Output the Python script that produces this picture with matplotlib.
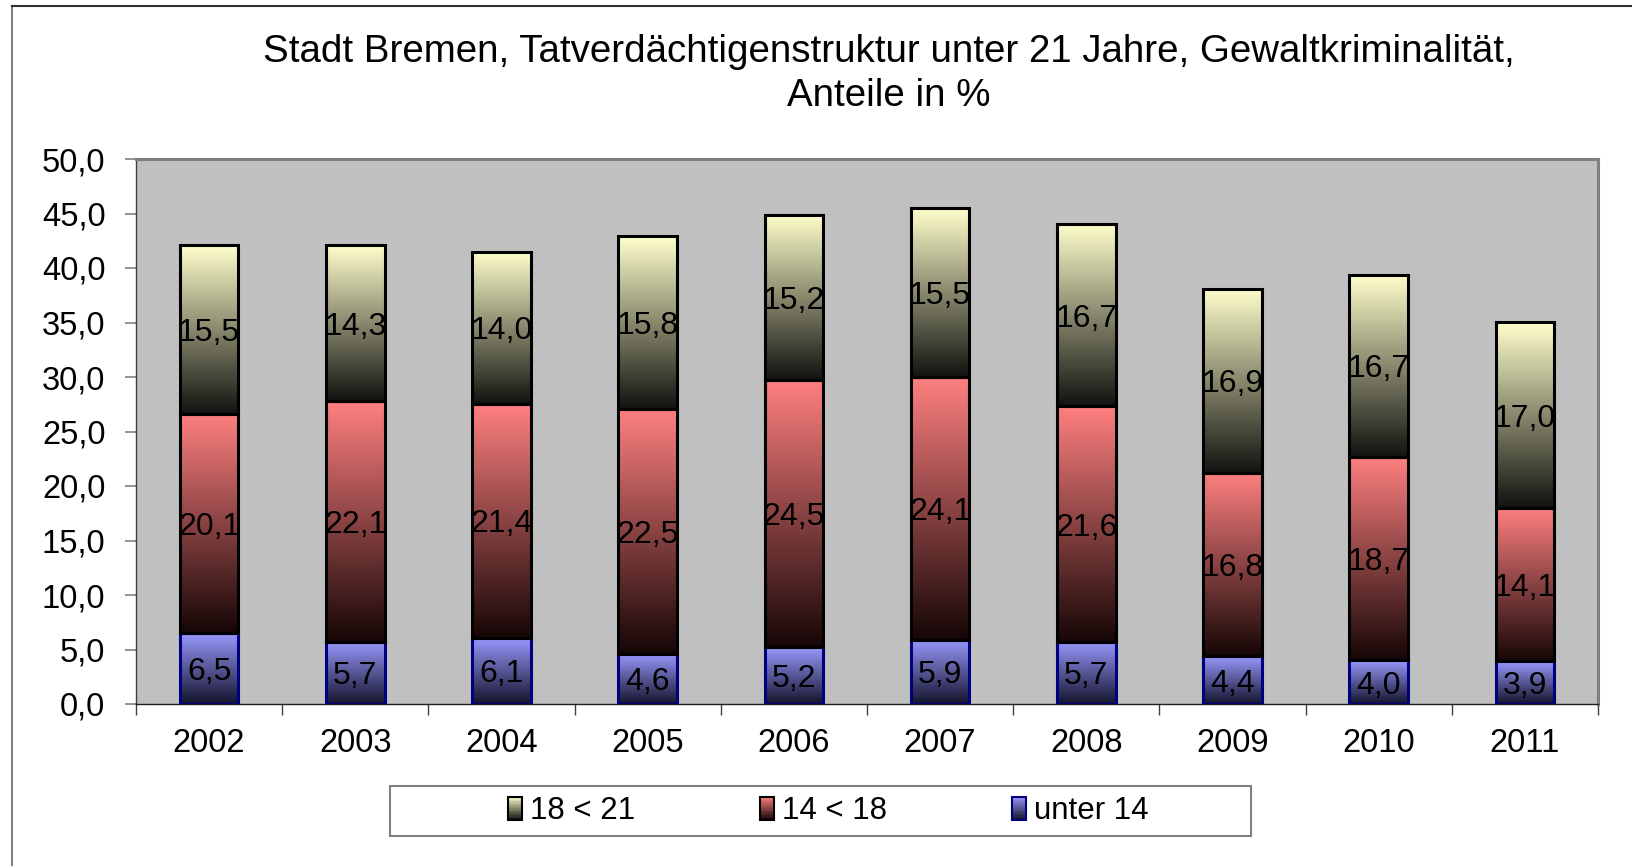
import numpy as np
import matplotlib
matplotlib.use("Agg")
import matplotlib.pyplot as plt
from matplotlib.colors import LinearSegmentedColormap, to_rgb
from matplotlib.patches import Rectangle
from matplotlib.lines import Line2D
from matplotlib.legend_handler import HandlerBase
from matplotlib.ticker import FuncFormatter, MultipleLocator

plt.rcParams['font.family'] = ['Liberation Sans', 'DejaVu Sans']

years = ['2002', '2003', '2004', '2005', '2006', '2007', '2008', '2009', '2010', '2011']
unter_14 = [6.5, 5.7, 6.1, 4.6, 5.2, 5.9, 5.7, 4.4, 4.0, 3.9]
j14_18 = [20.1, 22.1, 21.4, 22.5, 24.5, 24.1, 21.6, 16.8, 18.7, 14.1]
j18_21 = [15.5, 14.3, 14.0, 15.8, 15.2, 15.5, 16.7, 16.9, 16.7, 17.0]

title = "Stadt Bremen, Tatverdächtigenstruktur unter 21 Jahre, Gewaltkriminalität,\nAnteile in %"

# (label, values, top colour, bottom colour, edge colour)
series = [
    ("unter 14", unter_14, "#9999FF", "#14142c", "#000080"),
    ("14 < 18", j14_18, "#FF8080", "#160606", "#000000"),
    ("18 < 21", j18_21, "#FFFFCC", "#121210", "#000000"),
]


def komma(v, pos=None):
    return f"{v:.1f}".replace(".", ",")


def grad_cmap(top, bottom):
    return LinearSegmentedColormap.from_list("g", [bottom, top])


class GradientHandler(HandlerBase):
    def __init__(self, top, bottom, edge):
        super().__init__()
        self.top, self.bottom, self.edge = to_rgb(top), to_rgb(bottom), edge

    def create_artists(self, legend, orig_handle, xdescent, ydescent,
                       width, height, fontsize, trans):
        n = 16
        arts = []
        for i in range(n):
            t = (i + 0.5) / n
            c = tuple(b + (a - b) * t for a, b in zip(self.top, self.bottom))
            arts.append(Rectangle((-xdescent, -ydescent + height * i / n), width,
                                  height / n + 0.3, facecolor=c, edgecolor="none",
                                  transform=trans))
        arts.append(Rectangle((-xdescent, -ydescent), width, height, facecolor="none",
                              edgecolor=self.edge, lw=1.5, transform=trans))
        return arts


fig = plt.figure(figsize=(16.32, 8.66), dpi=100)
ax = fig.add_axes([136 / 1632, 1 - 704 / 866, 1462 / 1632, 545 / 866])
ax.set_facecolor("#C0C0C0")

x = np.arange(len(years))
bottom = np.zeros(len(years))
width = 0.40
handles = []
for label, vals, top_c, bot_c, edge_c in series:
    vals = np.array(vals)
    bars = ax.bar(x, vals, width, bottom=bottom, facecolor="none",
                  edgecolor=edge_c, linewidth=2.2, zorder=3, label=label)
    cmap = grad_cmap(top_c, bot_c)
    grad = np.linspace(0, 1, 256).reshape(-1, 1)
    for p, v in zip(bars.patches, vals):
        x0, y0 = p.get_x(), p.get_y()
        ax.imshow(grad, cmap=cmap, origin="lower", aspect="auto", zorder=2,
                  extent=(x0, x0 + p.get_width(), y0, y0 + p.get_height()))
        ax.text(x0 + p.get_width() / 2, y0 + p.get_height() / 2, komma(v),
                ha="center", va="center_baseline", fontsize=23, zorder=4)
    handles.append((bars, GradientHandler(top_c, bot_c, edge_c)))
    bottom = bottom + vals

ax.set_xlim(-0.5, len(years) - 0.5)
ax.set_ylim(0, 50)
ax.yaxis.set_major_locator(MultipleLocator(5))
ax.yaxis.set_major_formatter(FuncFormatter(komma))
ax.set_xticks(x)
ax.set_xticklabels(years)
ax.set_xticks(np.arange(-0.5, len(years)), minor=True)
ax.tick_params(axis="x", which="major", length=0, pad=17, labelsize=23.5)
ax.tick_params(axis="x", which="minor", length=8, color="#404040", width=1)
ax.tick_params(axis="y", length=8, color="#808080", width=1.2, pad=14, labelsize=23.5)

for s in ["top", "right"]:
    ax.spines[s].set_color("#808080")
    ax.spines[s].set_linewidth(2.2)
ax.spines["left"].set_color("#404040")
ax.spines["bottom"].set_color("#202020")
ax.spines["left"].set_linewidth(1)
ax.spines["bottom"].set_linewidth(1)

fig.text(889 / 1632, 1 - 74 / 866, title, ha="center", va="center",
         fontsize=27.7, linespacing=1.3)

# legend: reversed order, gradient squares, plain frame drawn separately
order = handles[::-1]
leg = fig.legend([h[0] for h in order], [h[0].get_label() for h in order],
                 handler_map={h[0]: h[1] for h in order},
                 loc="center", bbox_to_anchor=(828 / 1632, 1 - 811 / 866),
                 ncol=3, frameon=False, fontsize=22.5, handlelength=0.45,
                 handleheight=0.75, handletextpad=0.25, columnspacing=4.0)
fig.add_artist(Rectangle((390 / 1632, 1 - 836 / 866), 861 / 1632, 50 / 866,
                         transform=fig.transFigure, facecolor="none",
                         edgecolor="#808080", lw=1.5))

# outer frame of the chart
fig.add_artist(Line2D([12 / 1632, 12 / 1632], [0, 1 - 6 / 866], transform=fig.transFigure,
                      color="#808080", lw=1.5))
fig.add_artist(Line2D([12 / 1632, 1], [1 - 6 / 866, 1 - 6 / 866], transform=fig.transFigure,
                      color="#303030", lw=1.5))

fig.savefig("out.png", dpi=100)
